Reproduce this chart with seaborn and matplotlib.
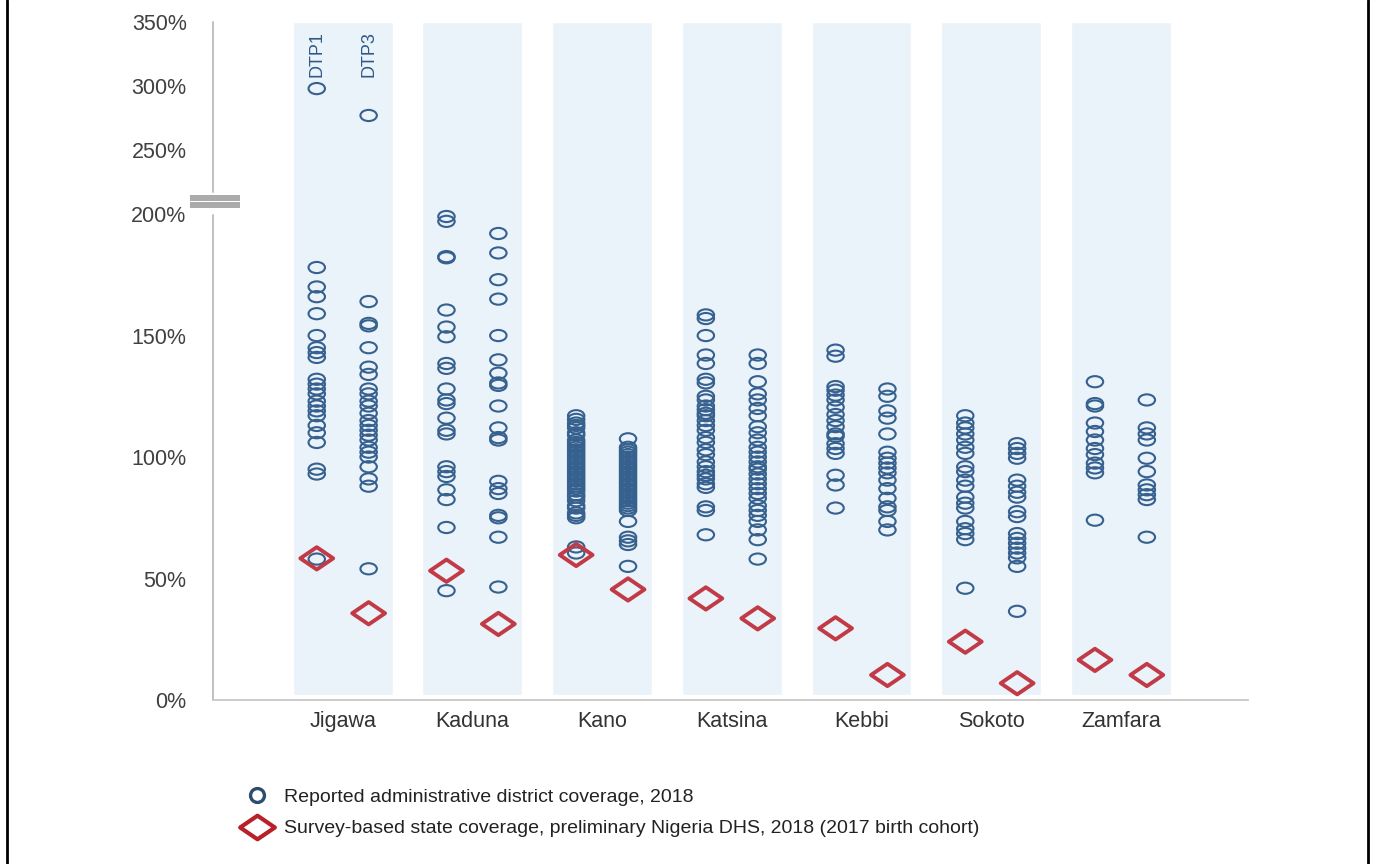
import numpy as np
import pandas as pd
import matplotlib
matplotlib.use("Agg")
import matplotlib.pyplot as plt
import seaborn as sns
from matplotlib.path import Path
from matplotlib.transforms import Affine2D
from matplotlib.lines import Line2D
from matplotlib.patches import Rectangle

states = ["Jigawa", "Kaduna", "Kano", "Katsina", "Kebbi", "Sokoto", "Zamfara"]

# reported administrative district coverage 2018 (%), per state and dose
jigawa_dtp1 = [298, 178, 170, 166, 159, 150, 145, 143, 141, 132, 130, 128, 126, 123, 121, 119, 117, 113, 110, 106, 95, 93, 58]
jigawa_dtp3 = [277, 164, 155, 154, 145, 137, 134, 128, 126, 123, 121, 118, 115, 113, 111, 109, 107, 104, 102, 100, 96, 91, 88, 54]
kaduna_dtp1 = [199, 197, 182.5, 182, 160.5, 153.5, 149.5, 138.5, 136.5, 128, 123.5, 122, 116, 111, 109.5, 96, 94, 92, 86.5, 82.5, 71, 45]
kaduna_dtp3 = [192, 184, 173, 165, 150, 140, 134.5, 130.5, 129.5, 121, 112, 108, 107, 90, 87, 85, 76, 75, 67, 46.5]
kano_dtp1 = [117, 115.5, 114, 113, 112, 110, 109, 107, 106, 105, 104, 103, 102, 101, 100, 99, 98, 97, 96, 95, 94, 93,
             92, 91, 90, 89, 88, 87, 86, 84.5, 83.5, 82, 80, 79, 77, 76, 75, 63, 60.5]
kano_dtp3 = [107.5, 104, 103, 102, 101, 100, 99, 98, 97, 96, 95, 94, 93, 92, 91, 90, 89, 88, 87, 86, 85, 84, 83, 82,
             81, 80, 79, 78, 73.5, 67, 65.5, 64, 55]
katsina_dtp1 = [158.5, 157, 150, 142, 138.5, 132, 130.5, 125, 123.5, 121, 119.5, 118, 117, 115, 113, 111, 108, 106, 103,
                101, 98, 96, 94, 92.5, 91, 89, 87.5, 79.5, 78, 68]
katsina_dtp3 = [142, 138.5, 131, 126, 123.5, 120, 117, 112.5, 110, 107, 104, 102, 100, 98, 96, 95, 93, 91, 89, 87, 85,
                83, 80, 78, 76, 73.5, 70, 66, 58]
kebbi_dtp1 = [144, 141.5, 129, 127.5, 125.5, 123.5, 120.5, 117.5, 115, 112.5, 109.5, 108.5, 105.5, 103.5, 101.5, 92.5, 88.5, 79]
kebbi_dtp3 = [128, 125, 119, 116, 109.5, 102, 99.5, 97.5, 95.5, 93.5, 90.5, 87, 83, 79.5, 78, 73.5, 70]
sokoto_dtp1 = [117, 114, 112, 109.5, 107, 104, 101.5, 96, 94, 90.5, 88, 83.5, 81, 79, 73.5, 70.5, 68.5, 66, 46]
sokoto_dtp3 = [105.5, 103.5, 101.5, 99.5, 90.5, 88, 85.5, 83.5, 77.5, 75.5, 68.5, 66.5, 64.5, 62.5, 60.5, 58.5, 55, 36.5]
zamfara_dtp1 = [131, 122, 121, 114, 110.5, 107, 103.5, 101, 97.5, 95.5, 93.5, 74]
zamfara_dtp3 = [123.5, 112, 109.5, 107, 99.5, 94, 88.5, 86.5, 84.5, 82.5, 67]

# survey-based state coverage, preliminary DHS 2018 (%)
survey_dtp1 = [58.3, 53.2, 59.7, 41.8, 29.5, 24, 16.5]
survey_dtp3 = [35.7, 31.3, 45.5, 33.6, 10.3, 6.9, 10.3]

ytick_vals = [0, 50, 100, 150, 200, 250, 300, 350]
ytick_labels = ["0%", "50%", "100%", "150%", "200%", "250%", "300%", "350%"]

admin = {
    "Jigawa": (jigawa_dtp1, jigawa_dtp3),
    "Kaduna": (kaduna_dtp1, kaduna_dtp3),
    "Kano": (kano_dtp1, kano_dtp3),
    "Katsina": (katsina_dtp1, katsina_dtp3),
    "Kebbi": (kebbi_dtp1, kebbi_dtp3),
    "Sokoto": (sokoto_dtp1, sokoto_dtp3),
    "Zamfara": (zamfara_dtp1, zamfara_dtp3),
}
OFF = 0.2  # dodge of DTP1 / DTP3 inside a state band

rows = []
for i, st in enumerate(states):
    d1, d3 = admin[st]
    rows += [(st, "DTP1", i - OFF, v) for v in d1]
    rows += [(st, "DTP3", i + OFF, v) for v in d3]
admin_df = pd.DataFrame(rows, columns=["state", "dose", "pos", "coverage"])

survey_df = pd.DataFrame({
    "pos": [i - OFF for i in range(7)] + [i + OFF for i in range(7)],
    "coverage": survey_dtp1 + survey_dtp3,
})

# broken axis: compress everything above 200%
K = 0.527
def fwd(v):
    v = np.asarray(v, dtype=float)
    return np.where(v <= 200, v, 200 + (v - 200) * K)

def inv(t):
    t = np.asarray(t, dtype=float)
    return np.where(t <= 200, t, 200 + (t - 200) / K)

# squashed markers (the source image is stretched horizontally)
ellipse = Path.unit_circle().transformed(Affine2D().scale(1, 0.68))
diamond = Path([(0, 0.68), (1, 0), (0, -0.68), (-1, 0), (0, 0.68)],
               [Path.MOVETO, Path.LINETO, Path.LINETO, Path.LINETO, Path.CLOSEPOLY])

BLUE = "#36618F"
RED = "#C23A45"
BAND = "#EAF2FA"

sns.set_style("white")
plt.rcParams["font.family"] = ["Liberation Sans", "DejaVu Sans"]

fig = plt.figure(figsize=(13.76, 8.64), dpi=100)
ax = fig.add_axes([213 / 1376, 1 - 700 / 864, 1035 / 1376, 678 / 864])
ax.set_yscale("function", functions=(fwd, inv))

ax.bar(range(7), 348, bottom=2, width=0.77, color=BAND, zorder=0)

sns.scatterplot(data=admin_df, x="pos", y="coverage", marker=ellipse, s=140,
                color=BLUE, facecolor="none", edgecolor=BLUE, linewidth=1.5,
                legend=False, zorder=3, ax=ax)
sns.scatterplot(data=survey_df, x="pos", y="coverage", marker=diamond, s=560,
                color=RED, facecolor="none", edgecolor=RED, linewidth=2.8,
                legend=False, zorder=4, ax=ax)

ax.set_xlim(-1.0, 6.98)
ax.set_ylim(0, 350)
ax.set_yticks(ytick_vals)
ax.set_yticklabels(ytick_labels)
ax.set_xticks(range(7))
ax.set_xticklabels(states)
ax.set_xlabel("")
ax.set_ylabel("")
ax.tick_params(axis="y", length=0, pad=19, labelsize=15.5, labelcolor="#404040")
ax.tick_params(axis="x", length=0, pad=8, labelsize=15.5, labelcolor="#333333")

for side in ["left", "top", "right"]:
    ax.spines[side].set_visible(False)
ax.spines["bottom"].set_color("#C8C8C8")
ax.spines["bottom"].set_linewidth(1.3)

# left axis line with a break mark
ax.plot([0, 0], [0, 0.7153], transform=ax.transAxes, clip_on=False, color="#C0C0C0", lw=1.4)
ax.plot([0, 0], [0.7497, 1], transform=ax.transAxes, clip_on=False, color="#C0C0C0", lw=1.4)
for y0 in [0.7257, 0.7360]:
    ax.add_patch(Rectangle((-0.0222, y0), 0.0483, 0.0088, transform=ax.transAxes,
                           clip_on=False, facecolor="#ABABAB", edgecolor="none"))

# dose labels above the Jigawa columns
for xpos, lab in [(-OFF, "DTP1"), (OFF, "DTP3")]:
    ax.text(xpos, 0.919, lab, transform=ax.get_xaxis_transform(), rotation=90,
            ha="center", va="bottom", fontsize=13, color="#2F5A85")

handles = [
    Line2D([], [], linestyle="none", marker="o", markersize=10, markerfacecolor="white",
           markeredgecolor="#2C4C70", markeredgewidth=2.4),
    Line2D([], [], linestyle="none", marker=diamond, markersize=25, markerfacecolor="white",
           markeredgecolor="#B8202A", markeredgewidth=3),
]
labels = ["Reported administrative district coverage, 2018",
          "Survey-based state coverage, preliminary Nigeria DHS, 2018 (2017 birth cohort)"]
fig.legend(handles, labels, loc="upper left", bbox_to_anchor=(0.163, 0.108),
           frameon=False, fontsize=14, handlelength=1.6, handletextpad=0.55,
           labelspacing=0.72, labelcolor="#222222")

# frame lines at the picture edges
for xf in [7 / 1376, 1368 / 1376]:
    fig.add_artist(Line2D([xf, xf], [0, 1], transform=fig.transFigure, color="black", lw=2))

fig.savefig("out.png", dpi=100)
